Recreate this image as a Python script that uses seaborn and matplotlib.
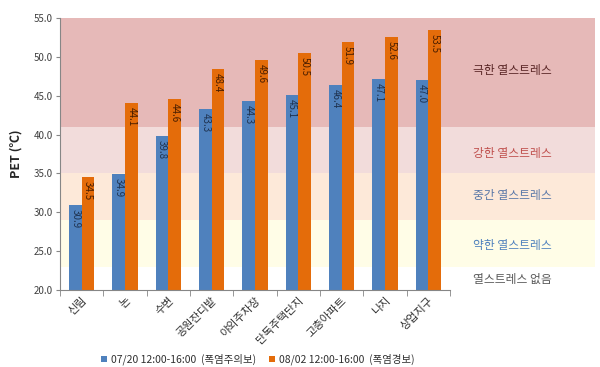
import matplotlib
matplotlib.use("Agg")
from matplotlib import pyplot as plt
import numpy as np
import pandas as pd
import seaborn as sns

sites = ["신림", "논", "수변", "공원잔디밭", "야외주차장", "단독주택단지", "고층아파트", "나지", "상업지구"]
pet_0720 = [30.9, 34.9, 39.8, 43.3, 44.3, 45.1, 46.4, 47.1, 47.0]
pet_0802 = [34.5, 44.1, 44.6, 48.4, 49.6, 50.5, 51.9, 52.6, 53.5]
periods = ["07/20 12:00-16:00  (폭염주의보)", "08/02 12:00-16:00  (폭염경보)"]

band_names = ["극한 열스트레스", "강한 열스트레스", "중간 열스트레스", "약한 열스트레스", "열스트레스 없음"]
band_lo = [41, 35, 29, 23, 20]
band_hi = [55, 41, 35, 29, 23]

df = pd.DataFrame({
    "site": sites * 2,
    "pet": pet_0720 + pet_0802,
    "period": [periods[0]] * len(sites) + [periods[1]] * len(sites),
})

sns.set_style("white")
plt.rcParams["font.family"] = ["Noto Sans CJK KR", "DejaVu Sans"]

fig = plt.figure(figsize=(6, 3.67), dpi=100)
ax = fig.add_axes([0.1, 0.21, 0.892, 0.741])

band_colors = ["#E6B9B8", "#F2DCDB", "#FDE9D9", "#FFFDE7", "#FFFFFF"]
band_text = ["#5A2626", "#C0504D", "#5A78A8", "#4F81BD", "#595959"]
for lo, hi, c in zip(band_lo, band_hi, band_colors):
    ax.axhspan(lo, hi, color=c, zorder=0, lw=0)

sns.barplot(data=df, x="site", y="pet", hue="period", palette=["#4F81BD", "#E46C0A"],
            width=0.58, saturation=1, linewidth=0, ax=ax, zorder=2)

txt_colors = ["#1F3350", "#4A1E00"]
for cont, tc in zip(ax.containers, txt_colors):
    for p in cont:
        h = p.get_height()
        ax.text(p.get_x() + p.get_width() / 2, h - 0.5, f"{h:.1f}", rotation=-90,
                ha="center", va="top", fontsize=7, color=tc, zorder=3)

label_y = [48.3, 37.6, 32.2, 25.7, 21.3]
for name, y, c in zip(band_names, label_y, band_text):
    ax.text(9.95, y, name, ha="center", va="center", fontsize=8.5, color=c)

ax.set_ylim(20, 55)
ax.set_xlim(-0.5, 11.85)
ax.set_yticks(np.arange(20, 55.1, 5))
ax.set_yticklabels([f"{v:.1f}" for v in np.arange(20, 55.1, 5)], fontsize=7, color="#404040")
ax.set_xticks(range(len(sites)))
ax.set_xticklabels(sites, rotation=45, ha="right", rotation_mode="anchor", fontsize=8, color="#303030")
ax.set_xticks(np.arange(-0.5, 9, 1), minor=True)
ax.tick_params(axis="x", which="major", length=0, pad=4)
ax.tick_params(axis="x", which="minor", length=4, color="#868686", direction="out", bottom=True)
ax.tick_params(axis="y", length=3, color="#868686", direction="out", left=True, pad=2)
ax.set_xlabel("")
ax.set_ylabel("PET (℃)", fontsize=9, fontweight="bold", labelpad=8)

for s in ["top", "right"]:
    ax.spines[s].set_visible(False)
ax.spines["bottom"].set_bounds(-0.5, 8.5)
for s in ["left", "bottom"]:
    ax.spines[s].set_color("#868686")
    ax.spines[s].set_linewidth(0.8)

ax.legend(loc="upper center", bbox_to_anchor=(0.37, -0.2), ncol=2, frameon=False,
          fontsize=7.5, handlelength=0.6, handleheight=0.6, handletextpad=0.4,
          columnspacing=1.2, labelcolor="#303030")

fig.savefig("out.png", dpi=100)
